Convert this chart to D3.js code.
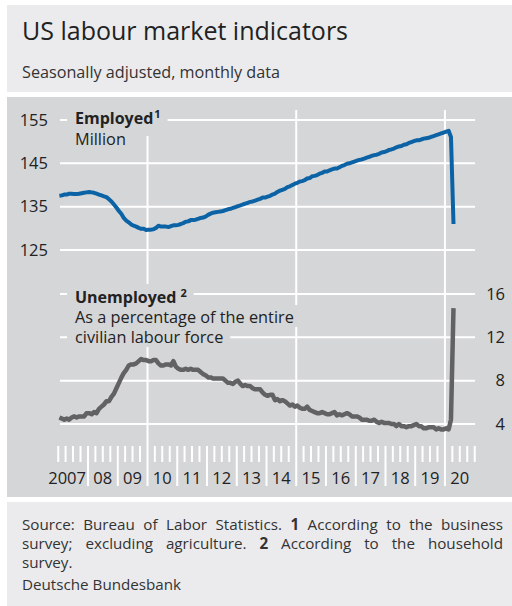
<!DOCTYPE html>
<html>
<head>
<meta charset="utf-8">
<script src="https://cdn.jsdelivr.net/npm/d3@7"></script>
<style>
  body { margin: 0; background: #fff; }
  svg { display: block; font-family: "Open Sans", sans-serif; }
</style>
</head>
<body>
<div id="chart"></div>
<script>
// Nonfarm payrolls, million, monthly from Jan 2007 to Apr 2020
const employed = [
  137.5, 137.6, 137.8, 137.8, 138.0, 138.0, 137.9, 137.9, 138.0, 138.1, 138.2, 138.3,
  138.4, 138.3, 138.2, 138.0, 137.8, 137.6, 137.4, 137.2, 136.7, 136.2, 135.5, 134.8,
  134.0, 133.3, 132.4, 131.8, 131.4, 130.9, 130.6, 130.4, 130.1, 129.9, 129.9, 129.6,
  129.7, 129.7, 129.8, 130.1, 130.6, 130.4, 130.4, 130.4, 130.3, 130.5, 130.7, 130.7,
  130.8, 131.0, 131.2, 131.5, 131.6, 131.9, 131.9, 132.0, 132.2, 132.4, 132.5, 132.7,
  133.1, 133.4, 133.6, 133.7, 133.8, 133.9, 134.0, 134.2, 134.4, 134.5, 134.7, 134.9,
  135.1, 135.3, 135.5, 135.7, 135.9, 136.1, 136.2, 136.4, 136.6, 136.8, 137.1, 137.1,
  137.3, 137.5, 137.8, 138.0, 138.4, 138.7, 138.9, 139.1, 139.5, 139.7, 140.0, 140.3,
  140.5, 140.8, 140.9, 141.1, 141.5, 141.6, 142.0, 142.1, 142.3, 142.6, 142.8, 143.1,
  143.1, 143.4, 143.6, 143.8, 143.8, 144.1, 144.4, 144.6, 144.9, 145.0, 145.2, 145.4,
  145.6, 145.8, 145.9, 146.1, 146.3, 146.5, 146.7, 146.9, 147.0, 147.2, 147.5, 147.6,
  147.8, 148.1, 148.2, 148.4, 148.7, 148.9, 149.0, 149.3, 149.4, 149.7, 149.9, 150.1,
  150.3, 150.3, 150.5, 150.7, 150.8, 150.9, 151.1, 151.3, 151.5, 151.7, 151.9, 152.1,
  152.3, 152.5, 151.1, 131.0
];

// Unemployment rate, % of civilian labour force, same months
const unemployed = [
  4.6, 4.5, 4.4, 4.5, 4.4, 4.6, 4.7, 4.6, 4.7, 4.7, 4.7, 5.0,
  5.0, 4.9, 5.1, 5.0, 5.4, 5.6, 5.8, 6.1, 6.1, 6.5, 6.8, 7.3,
  7.8, 8.3, 8.7, 9.0, 9.4, 9.5, 9.5, 9.6, 9.8, 10.0, 9.9, 9.9,
  9.8, 9.8, 9.9, 9.9, 9.6, 9.4, 9.4, 9.5, 9.5, 9.4, 9.8, 9.3,
  9.1, 9.0, 9.0, 9.1, 9.0, 9.1, 9.0, 9.0, 9.0, 8.8, 8.6, 8.5,
  8.3, 8.3, 8.2, 8.2, 8.2, 8.2, 8.2, 8.0, 7.8, 7.8, 7.7, 7.9,
  8.0, 7.7, 7.5, 7.6, 7.5, 7.5, 7.3, 7.2, 7.2, 7.2, 6.9, 6.7,
  6.6, 6.7, 6.7, 6.2, 6.3, 6.1, 6.2, 6.1, 5.9, 5.7, 5.8, 5.6,
  5.7, 5.5, 5.4, 5.4, 5.6, 5.3, 5.2, 5.1, 5.0, 5.0, 5.1, 5.0,
  4.9, 4.9, 5.0, 5.1, 4.8, 4.9, 4.8, 4.9, 5.0, 4.9, 4.7, 4.7,
  4.7, 4.6, 4.4, 4.4, 4.4, 4.3, 4.3, 4.4, 4.2, 4.1, 4.2, 4.1,
  4.1, 4.1, 4.0, 4.0, 3.8, 4.0, 3.8, 3.8, 3.7, 3.8, 3.8, 3.9,
  4.0, 3.8, 3.8, 3.6, 3.6, 3.7, 3.7, 3.7, 3.5, 3.6, 3.5, 3.5,
  3.6, 3.5, 4.4, 14.7
];

const years = d3.range(2007, 2021);
const yearLabels = ["2007", "08", "09", "10", "11", "12", "13", "14", "15", "16", "17", "18", "19", "20"];
const leftTicks = [125, 135, 145, 155];
const rightTicks = [4, 8, 12, 16];
const gridYears = [2010, 2015, 2020];

const title = "US labour market indicators";
const subtitle = "Seasonally adjusted, monthly data";
const employedLabel = ["Employed", "Million"];
const unemployedLabel = ["Unemployed", "As a percentage of the entire", "civilian labour force"];
const footLines = [
  [["Source:"], ["Bureau"], ["of"], ["Labor"], ["Statistics."], ["1", true], ["According"], ["to"], ["the"], ["business"]],
  [["survey;"], ["excluding"], ["agriculture."], ["2", true], ["According"], ["to"], ["the"], ["household"]]
];
const footLast = "survey.";
const credit = "Deutsche Bundesbank";

const width = 512, height = 606;
const panelLight = "#ebebed", panelDark = "#d5d6d8";
const textCol = "#222";

const svg = d3.select("#chart").append("svg")
  .attr("width", width)
  .attr("height", height);

// Background panels
svg.append("rect").attr("x", 7).attr("y", 5).attr("width", width - 7).attr("height", 87).attr("fill", panelLight);
svg.append("rect").attr("x", 7).attr("y", 97).attr("width", width - 7).attr("height", 400).attr("fill", panelDark);
svg.append("rect").attr("x", 7).attr("y", 502).attr("width", width - 7).attr("height", 104).attr("fill", panelLight);

svg.append("text").attr("x", 22).attr("y", 40)
  .attr("font-size", 25).attr("fill", textCol).text(title);
svg.append("text").attr("x", 22).attr("y", 78)
  .attr("font-size", 16.2).attr("fill", "#333").text(subtitle);

// Scales
const months = employed.map((d, i) => new Date(2007, i, 15));
const x = d3.scaleTime()
  .domain([new Date(2007, 0, 1), new Date(2021, 0, 1)])
  .range([58.25, 474.75]);
const yL = d3.scaleLinear().domain([125, 155]).range([250, 120]);
const yR = d3.scaleLinear().domain([4, 16]).range([424, 294]);

const gridX0 = 60, gridX1 = 475;
const tickTop = 446;

// Horizontal gridlines
svg.append("g").selectAll("line").data(leftTicks).join("line")
  .attr("x1", gridX0).attr("x2", gridX1)
  .attr("y1", d => yL(d)).attr("y2", d => yL(d))
  .attr("stroke", "#fff").attr("stroke-width", 2);
svg.append("g").selectAll("line").data(rightTicks).join("line")
  .attr("x1", gridX0).attr("x2", gridX1)
  .attr("y1", d => yR(d)).attr("y2", d => yR(d))
  .attr("stroke", "#fff").attr("stroke-width", 2);

// Vertical gridlines
svg.append("g").selectAll("line").data(gridYears).join("line")
  .attr("x1", d => x(new Date(d, 0, 1))).attr("x2", d => x(new Date(d, 0, 1)))
  .attr("y1", 110).attr("y2", tickTop)
  .attr("stroke", "#fff").attr("stroke-width", 2);

// Quarter ticks, long at year boundaries
const quarters = d3.timeMonth.every(3).range(new Date(2007, 0, 1), new Date(2021, 0, 2));
svg.append("g").selectAll("line").data(quarters).join("line")
  .attr("x1", d => x(d)).attr("x2", d => x(d))
  .attr("y1", tickTop)
  .attr("y2", d => (d.getMonth() === 0 && d.getFullYear() > 2007 && d.getFullYear() < 2021) ? 486 : 462)
  .attr("stroke", "#fff").attr("stroke-width", 2);

// Year labels ("2007" is pushed left of its year so it clears the boundary tick)
svg.append("g").selectAll("text").data(years).join("text")
  .attr("x", (d, i) => i === 0 ? x(new Date(d + 1, 0, 1)) - 2 : x(new Date(d, 6, 1)))
  .attr("y", 484)
  .attr("text-anchor", (d, i) => i === 0 ? "end" : "middle")
  .attr("font-size", 16.5).attr("fill", textCol)
  .text((d, i) => yearLabels[i]);

// Axis labels
svg.append("g").selectAll("text").data(leftTicks).join("text")
  .attr("x", 48).attr("y", d => yL(d)).attr("dy", "0.35em")
  .attr("text-anchor", "end").attr("font-size", 16.5).attr("fill", textCol)
  .text(d => d);
svg.append("g").selectAll("text").data(rightTicks).join("text")
  .attr("x", 505).attr("y", d => yR(d)).attr("dy", "0.35em")
  .attr("text-anchor", "end").attr("font-size", 16.5).attr("fill", textCol)
  .text(d => d);

// Series labels with masking boxes
function seriesLabel(lines, sup, baseY, step, extraBottom) {
  const g = svg.append("g");
  const boxes = g.append("g");
  lines.forEach((txt, i) => {
    const t = g.append("text")
      .attr("x", 75).attr("y", baseY + i * step)
      .attr("font-size", i === 0 ? 16 : 16.3).attr("fill", textCol)
      .attr("font-weight", i === 0 ? "bold" : "normal");
    t.append("tspan").text(txt);
    if (i === 0) {
      t.append("tspan").attr("font-size", 11).attr("dx", sup === "2" ? 4 : 1).attr("dy", -6).text(sup);
    }
    const b = t.node().getBBox();
    boxes.append("rect")
      .attr("x", b.x - 8).attr("width", b.width + 15)
      .attr("y", b.y - 1).attr("height", b.height + (i === 0 ? extraBottom : 0))
      .attr("fill", panelDark);
  });
}
seriesLabel(employedLabel, "1", 124, 21, 8);
seriesLabel(unemployedLabel, "2", 303, 20, 0);

// Lines
const lineL = d3.line().x((d, i) => x(months[i])).y(d => yL(d));
const lineR = d3.line().x((d, i) => x(months[i])).y(d => yR(d));

svg.append("path").datum(unemployed)
  .attr("fill", "none").attr("stroke", "#626264").attr("stroke-width", 4.5)
  .attr("stroke-linejoin", "round")
  .attr("d", lineR);
svg.append("path").datum(employed)
  .attr("fill", "none").attr("stroke", "#0b62a4").attr("stroke-width", 4)
  .attr("stroke-linejoin", "round")
  .attr("d", lineL);

// Footer with justified lines
const footX0 = 22, footX1 = 503;
const footBase = [529.5, 548.5];
const footSize = 15.2;
footLines.forEach((words, li) => {
  const t = svg.append("text").attr("y", footBase[li]).attr("font-size", footSize).attr("fill", "#333");
  const spans = words.map(w => t.append("tspan")
    .attr("font-weight", w[1] ? "bold" : "normal")
    .text(w[0]));
  const widths = spans.map(s => s.node().getComputedTextLength());
  const gap = (footX1 - footX0 - d3.sum(widths)) / (words.length - 1);
  let cx = footX0;
  spans.forEach((s, i) => { s.attr("x", cx); cx += widths[i] + gap; });
});
svg.append("text").attr("x", footX0).attr("y", 568).attr("font-size", footSize).attr("fill", "#333").text(footLast);
svg.append("text").attr("x", footX0).attr("y", 590).attr("font-size", footSize).attr("fill", "#333").text(credit);
</script>
</body>
</html>
